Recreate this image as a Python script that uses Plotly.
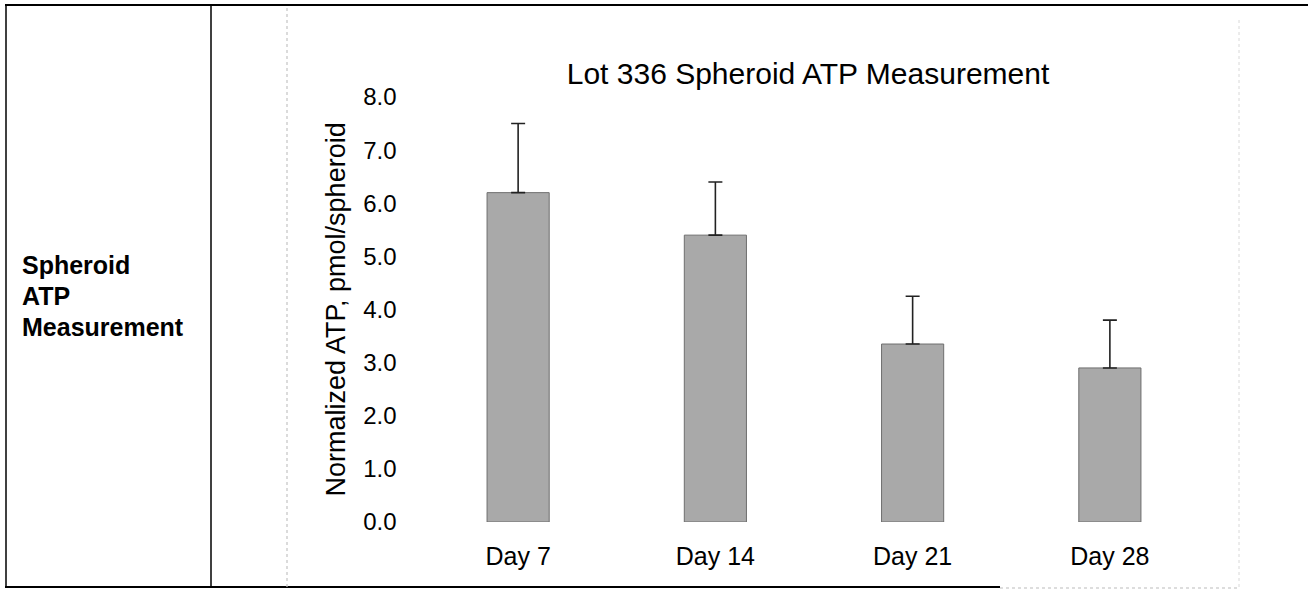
import plotly.graph_objects as go

# ---- data ----
categories = ["Day 7", "Day 14", "Day 21", "Day 28"]
atp_mean = [6.2, 5.4, 3.35, 2.9]
atp_err = [1.3, 1.0, 0.9, 0.9]
y_ticks = [0, 1, 2, 3, 4, 5, 6, 7, 8]
chart_title = "Lot 336 Spheroid ATP Measurement"
y_title = "Normalized ATP, pmol/spheroid"
row_label = ["Spheroid", "ATP", "Measurement"]

W, H = 1308, 596
FONT = "Liberation Sans, Arial, sans-serif"


def px(x):
    return x / W


def py(y):
    return (H - y) / H


fig = go.Figure()
fig.add_trace(go.Bar(
    x=categories,
    y=atp_mean,
    marker=dict(color="#a9a9a9", line=dict(color="#6e6e6e", width=1)),
    error_y=dict(type="data", array=atp_err, arrayminus=[0] * len(atp_err),
                 symmetric=False, color="#222222", thickness=1.6, width=7),
    showlegend=False,
))

fig.update_layout(
    width=W, height=H,
    margin=dict(l=0, r=0, t=0, b=0),
    paper_bgcolor="white", plot_bgcolor="white",
    font=dict(family=FONT, color="black"),
    bargap=0.685,
    title=dict(text=chart_title, x=px(808), xanchor="center",
               y=py(73), yanchor="middle",
               font=dict(size=30, family=FONT, color="black")),
    xaxis=dict(domain=[px(419.5), px(1208.5)], range=[-0.5, 3.5],
               automargin=False,
               showgrid=False, zeroline=False, showline=False, ticks="",
               tickfont=dict(size=25, family=FONT, color="black"),
               ticklabelstandoff=17),
    yaxis=dict(domain=[py(522), py(97)], range=[0, 8],
               automargin=False,
               tickvals=y_ticks, tickformat=".1f",
               showgrid=False, zeroline=False, showline=False, ticks="",
               tickfont=dict(size=24, family=FONT, color="black"),
               ticklabelstandoff=22),
)

# y-axis title
fig.add_annotation(text=y_title, x=px(335), y=py(309.5), xref="paper", yref="paper",
                   textangle=-90, showarrow=False, xanchor="center", yanchor="middle",
                   font=dict(size=27, family=FONT, color="black"))

# row label in the left table cell
for label, yc in zip(row_label, [265, 296, 327]):
    fig.add_annotation(text="<b>" + label + "</b>", x=px(20), y=py(yc),
                       xref="paper", yref="paper", showarrow=False,
                       xanchor="left", yanchor="middle",
                       font=dict(size=25, family=FONT, color="black"))


# table lines
def line(x0, y0, x1, y1, color="black", width=1.5, dash="solid"):
    fig.add_shape(type="line", xref="paper", yref="paper",
                  x0=px(x0), y0=py(y0), x1=px(x1), y1=py(y1),
                  line=dict(color=color, width=width, dash=dash))


line(5, 5, 1308, 5, width=2)
line(6, 5, 6, 587, width=1.5)
line(5, 587, 1000, 587, width=2)
line(1000, 588, 1240, 588, color="#bbbbbb", width=1.2, dash="dot")
line(211, 5, 211, 587, width=1.5)
line(287, 8, 287, 587, color="#c4c4c4", width=1.2, dash="dot")
line(1239, 20, 1239, 588, color="#d8d8d8", width=1, dash="dot")

fig.write_html("out.html",
               config={"displayModeBar": False},
               post_script="document.body.style.margin='0';"
                           "document.body.style.overflow='hidden';")
